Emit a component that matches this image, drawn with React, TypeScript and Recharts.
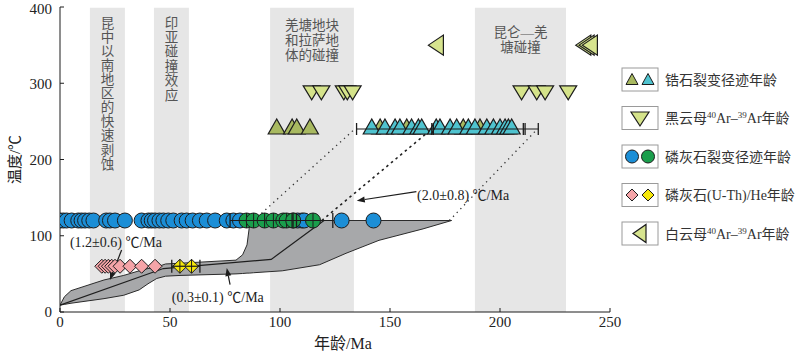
import React from 'react';
import {
  ComposedChart,
  XAxis,
  YAxis,
  Area,
  Scatter,
  ReferenceArea,
  ReferenceLine,
  ReferenceDot,
  Legend,
  Label
} from 'recharts';

const SERIF = "'Liberation Serif', 'Noto Sans CJK SC', serif";
const CJK = "'Noto Sans CJK SC', 'Liberation Serif', sans-serif";

const xTicks = [0, 50, 100, 150, 200, 250];
const yTicks = [0, 100, 200, 300, 400];

// tectonic events, age span in Ma
const eventFrom = [13.6, 42.7, 95.5, 188.6];
const eventTo = [29.5, 58.6, 133.6, 230];
const eventText = [
  ['昆中以南地区的快速剥蚀'],
  ['印亚碰撞效应'],
  ['羌塘地块', '和拉萨地', '体的碰撞'],
  ['昆仑—羌', '塘碰撞']
];

// modelled thermal history envelope (age Ma, temp °C)
const envAge = [0, 2, 5, 20, 29, 36, 40, 44, 48, 55, 80, 83, 85, 86, 88, 101, 118, 130, 145, 165, 178];
const envLow = [9, 10, 11.5, 17.5, 22, 29, 37, 44, 47, 48, 50, 50.5, 51, 51, 51.5, 54, 62, 77, 94, 109, 120];
const envHigh = [9, 20, 28, 42, 48, 54, 57, 59, 63, 64, 68, 75, 88, 110, 120, 120, 120, 120, 120, 120, 120];

// best-fit path
const pathAge = [0, 47, 96, 120];
const pathTemp = [9, 57, 69, 120];

// cooling-rate guides
const rateA = { age: [88, 134], temp: [120, 240] };
const rateB = { age: [119, 169], temp: [120, 240] };
const rateC = { age: [177, 217], temp: [120, 240] };

// apatite fission track (120 °C)
const aftTemp = 120;
const aftBlue = [0, 1.5, 3, 5.3, 8.3, 9.8, 11.4, 13.3, 15.2, 21, 22.7, 25, 29.5, 37.1, 40.2, 41.7, 43.2, 45.2, 47, 49.2,
  51.5, 55.3, 57.6, 60.3, 63.6, 66.7, 70.5, 75.8, 78.8, 81.8, 106, 108, 110, 111, 128, 142.5];
const aftGreen = [84.8, 88, 93, 97, 101.5, 103, 106, 115];
const aftErr = [77.3, 124];
const aftErrTicks = [77.3, 105.5, 107.5, 124];

// apatite (U-Th)/He (60 °C)
const aheTemp = 60;
const ahePink = [19, 20.5, 22, 23.5, 25, 27.3, 31.8, 37.1, 43.2];
const aheYellow = [54.5, 59.8];
const aheErr = [50.8, 63.6];

// zircon fission track (240 °C)
const zftTemp = 240;
const zftOlive = [98.5, 105.5, 107.6, 113.6, 145.5, 157.6, 183.3, 190.9];
const zftCyan = [141.7, 147.7, 152.3, 154.5, 159.8, 162.9, 164.4, 171, 172.7, 177.3, 180.3, 185.6, 188.6, 194, 197,
  200, 202.3, 203.8, 205.3];
const zftErr = [134.8, 217.4];
const zftErrTicks = [134.8, 169, 169.7, 210.6, 211.4, 217.4];

// biotite 40Ar-39Ar (290 °C), muscovite 40Ar-39Ar (350 °C)
const btTemp = 290;
const btAges = [114.4, 118.8, 129, 130.6, 133, 209.8, 216.7, 220.5, 231];
const msTemp = 350;
const msAges = [172, 239, 240.5, 242];

const legendLabels = [
  '锆石裂变径迹年龄',
  '黑云母^40^Ar–^39^Ar年龄',
  '磷灰石裂变径迹年龄',
  '磷灰石(U-Th)/He年龄',
  '白云母^40^Ar–^39^Ar年龄'
];

const C = {
  olive: '#a8b960',
  cyan: '#4fc3cf',
  biotite: '#d5e38a',
  muscovite: '#d7e48e',
  blue: '#1b8ed6',
  green: '#1a9e4c',
  pink: '#f5a4a8',
  yellow: '#f6e80a',
  band: '#e6e6e6',
  env: '#a7a8aa',
  ink: '#1c1c1c'
};

const toPoints = (ages: number[], temp: number) => ages.map((x) => ({ x, y: temp }));
const toPath = (ages: number[], temps: number[]) => ages.map((x, i) => ({ x, y: temps[i] }));
const envRows = envAge.map((x, i) => ({ x, range: [envLow[i], envHigh[i]] }));

const none = () => <g />;
const dot = (fill: string, cross = false) => (p: any) => (
  <g>
    <circle cx={p.cx} cy={p.cy} r={7.5} fill={fill} stroke={C.ink} strokeWidth={1} />
    {cross && <line x1={p.cx} x2={p.cx} y1={p.cy - 7.5} y2={p.cy + 7.5} stroke={C.ink} strokeWidth={1} />}
  </g>
);
const diamond = (fill: string, cross = false) => (p: any) => (
  <g>
    <polygon
      points={`${p.cx},${p.cy - 7} ${p.cx + 7},${p.cy} ${p.cx},${p.cy + 7} ${p.cx - 7},${p.cy}`}
      fill={fill}
      stroke={C.ink}
      strokeWidth={1}
    />
    {cross && <line x1={p.cx} x2={p.cx} y1={p.cy - 7} y2={p.cy + 7} stroke={C.ink} strokeWidth={1} />}
  </g>
);
const triUp = (fill: string) => (p: any) => (
  <polygon
    points={`${p.cx},${p.cy - 10} ${p.cx - 8.5},${p.cy + 5} ${p.cx + 8.5},${p.cy + 5}`}
    fill={fill}
    stroke={C.ink}
    strokeWidth={1.2}
  />
);
const triDown = (fill: string) => (p: any) => (
  <polygon
    points={`${p.cx - 8.5},${p.cy - 5} ${p.cx + 8.5},${p.cy - 5} ${p.cx},${p.cy + 9}`}
    fill={fill}
    stroke={C.ink}
    strokeWidth={1.2}
  />
);
const triLeft = (fill: string) => (p: any) => (
  <polygon
    points={`${p.cx - 10},${p.cy} ${p.cx + 5},${p.cy - 10} ${p.cx + 5},${p.cy + 10}`}
    fill={fill}
    stroke={C.ink}
    strokeWidth={1.2}
  />
);
const vTick = (h: number) => (p: any) => (
  <line x1={p.cx} x2={p.cx} y1={p.cy - h} y2={p.cy + h} stroke={C.ink} strokeWidth={1.3} />
);

const ArrowLine = (p: any) => {
  const { x1, y1, x2, y2 } = p;
  const a = Math.atan2(y2 - y1, x2 - x1);
  const L = 8;
  const W = 3;
  const bx = x2 - L * Math.cos(a);
  const by = y2 - L * Math.sin(a);
  const pts = `${x2},${y2} ${bx - W * Math.sin(a)},${by + W * Math.cos(a)} ${bx + W * Math.sin(a)},${by - W * Math.cos(a)}`;
  return (
    <g>
      <line x1={x1} y1={y1} x2={bx} y2={by} stroke={C.ink} strokeWidth={1.2} />
      <polygon points={pts} fill={C.ink} />
    </g>
  );
};

const note = (txt: string) => (p: any) => (
  <text x={p.cx} y={p.cy + 5} fontFamily={SERIF} fontSize={14} fill="#222">
    {txt}
  </text>
);

// vertical labels use one text column, horizontal ones one line per row
const BandLabel = ({ viewBox, lines, first, step, vertical }: any) => {
  if (!viewBox) return null;
  const cx = viewBox.x + viewBox.width / 2;
  if (vertical) {
    return (
      <text
        x={cx}
        y={viewBox.y + first}
        fontFamily={CJK}
        fontSize={13.5}
        fill="#555"
        style={{ writingMode: 'vertical-rl', letterSpacing: step - 13.5 }}
      >
        {lines[0]}
      </text>
    );
  }
  return (
    <g>
      {lines.map((s: string, i: number) => (
        <text key={i} x={cx} y={viewBox.y + first + i * step + 5} fontFamily={SERIF} fontSize={13.5} fill="#555" textAnchor="middle">
          {s}
        </text>
      ))}
    </g>
  );
};
const bandLayout = [
  { first: 8, step: 14.1, vertical: true },
  { first: 8, step: 14.4, vertical: true },
  { first: 17, step: 15, vertical: false },
  { first: 24, step: 15, vertical: false }
];

const YTitle = ({ viewBox }: any) => (
  <text
    transform={`translate(${viewBox.x + 15}, ${viewBox.y + viewBox.height / 2}) rotate(-90)`}
    textAnchor="middle"
    dominantBaseline="central"
    fontFamily={SERIF}
    fontSize={15}
    fill="#222"
  >
    温度/℃
  </text>
);
const XTitle = ({ viewBox }: any) => (
  <text x={viewBox.x + 283} y={viewBox.y + 37} textAnchor="middle" fontFamily={SERIF} fontSize={16} fill="#222">
    年龄/Ma
  </text>
);

const LegendLabel = ({ x, y, label }: any) => {
  const parts = label.split('^');
  return (
    <text x={x} y={y} fontFamily={SERIF} fontSize={14} fill="#333">
      {parts.map((s: string, i: number) =>
        i % 2 ? (
          <tspan key={i} fontSize={9} dy={-5}>
            {s}
          </tspan>
        ) : (
          <tspan key={i} dy={i ? 5 : 0}>
            {s}
          </tspan>
        )
      )}
    </text>
  );
};

const LegendPanel = () => {
  const rowTop = (i: number) => 8 + i * 38.5;
  const symbols = [
    (y: number) => (
      <g>
        <polygon points={`${17},${y - 6} ${11},${y + 5} ${23},${y + 5}`} fill={C.olive} stroke={C.ink} />
        <polygon points={`${33},${y - 6} ${27},${y + 5} ${39},${y + 5}`} fill={C.cyan} stroke={C.ink} />
      </g>
    ),
    (y: number) => (
      <polygon points={`${16},${y - 6} ${34},${y - 6} ${25},${y + 8}`} fill={C.biotite} stroke={C.ink} strokeWidth={1.2} />
    ),
    (y: number) => (
      <g>
        <circle cx={17} cy={y} r={6.5} fill={C.blue} stroke={C.ink} />
        <circle cx={33} cy={y} r={6.5} fill={C.green} stroke={C.ink} />
      </g>
    ),
    (y: number) => (
      <g>
        <polygon points={`17,${y - 6} 23,${y} 17,${y + 6} 11,${y}`} fill={C.pink} stroke={C.ink} />
        <polygon points={`33,${y - 6} 39,${y} 33,${y + 6} 27,${y}`} fill={C.yellow} stroke={C.ink} />
      </g>
    ),
    (y: number) => (
      <polygon points={`${18},${y} ${31},${y - 9} ${31},${y + 9}`} fill={C.muscovite} stroke={C.ink} strokeWidth={1.2} />
    )
  ];
  return (
    <svg width={185} height={200}>
      {legendLabels.map((lab, i) => {
        const top = rowTop(i);
        const cy = top + 11.5;
        return (
          <g key={i}>
            <rect x={7} y={top} width={36} height={23} fill="#fff" stroke="#9a9a9a" strokeWidth={1} />
            {symbols[i](cy)}
            <LegendLabel x={50} y={cy + 5} label={lab} />
          </g>
        );
      })}
    </svg>
  );
};

export default function App() {
  return (
    <div style={{ position: 'absolute', left: 0, top: 0, background: '#fff' }}>
      <ComposedChart
        width={800}
        height={353}
        data={envRows}
        margin={{ top: 7, right: 190, bottom: 0, left: 0 }}
        style={{ fontFamily: SERIF }}
      >
        <XAxis
          type="number"
          dataKey="x"
          domain={[0, 250]}
          ticks={xTicks}
          height={41}
          tickSize={-4}
          tickMargin={8}
          stroke={C.ink}
          tick={{ fontSize: 15, fill: '#222', fontFamily: SERIF }}
          allowDataOverflow
        >
          <Label content={XTitle} />
        </XAxis>
        <YAxis
          type="number"
          dataKey="y"
          domain={[0, 400]}
          ticks={yTicks}
          width={60}
          tickSize={-4}
          tickMargin={12}
          stroke={C.ink}
          tick={{ fontSize: 15, fill: '#222', fontFamily: SERIF }}
          allowDataOverflow
        >
          <Label content={YTitle} />
        </YAxis>

        {eventFrom.map((x1, i) => (
          <ReferenceArea
            key={i}
            x1={x1}
            x2={eventTo[i]}
            y1={0}
            y2={399}
            fill={C.band}
            fillOpacity={1}
            stroke="none"
            label={<BandLabel lines={eventText[i]} {...bandLayout[i]} />}
          />
        ))}

        <Area
          type="linear"
          dataKey="range"
          fill={C.env}
          fillOpacity={1}
          stroke="#2b2b2b"
          strokeWidth={1}
          dot={false}
          activeDot={false}
          isAnimationActive={false}
        />
        <Scatter data={toPath(pathAge, pathTemp)} line={{ stroke: '#1f1f1f', strokeWidth: 1.2 }} lineType="joint" shape={none} isAnimationActive={false} />

        <Scatter data={toPath(rateA.age, rateA.temp)} line={{ stroke: '#333', strokeWidth: 1.3, strokeDasharray: '1.3 4' }} lineType="joint" shape={none} isAnimationActive={false} />
        <Scatter data={toPath(rateB.age, rateB.temp)} line={{ stroke: '#222', strokeWidth: 1.6, strokeDasharray: '2.5 3.5' }} lineType="joint" shape={none} isAnimationActive={false} />
        <Scatter data={toPath(rateC.age, rateC.temp)} line={{ stroke: '#333', strokeWidth: 1.3, strokeDasharray: '1.3 4' }} lineType="joint" shape={none} isAnimationActive={false} />

        <Scatter data={toPoints(aftBlue, aftTemp)} shape={dot(C.blue)} isAnimationActive={false} />
        <Scatter data={toPoints(aftGreen, aftTemp)} shape={dot(C.green, true)} isAnimationActive={false} />
        <Scatter data={toPoints(aftErr, aftTemp)} line={{ stroke: C.ink, strokeWidth: 1.2 }} lineType="joint" shape={none} isAnimationActive={false} />
        <Scatter data={toPoints(aftErrTicks, aftTemp)} shape={vTick(7.5)} isAnimationActive={false} />

        <Scatter data={toPoints(ahePink, aheTemp)} shape={diamond(C.pink)} isAnimationActive={false} />
        <Scatter data={toPoints(aheYellow, aheTemp)} shape={diamond(C.yellow, true)} isAnimationActive={false} />
        <Scatter data={toPoints(aheErr, aheTemp)} line={{ stroke: C.ink, strokeWidth: 1.2 }} lineType="joint" shape={vTick(6.5)} isAnimationActive={false} />

        <Scatter data={toPoints(zftOlive, zftTemp)} shape={triUp(C.olive)} isAnimationActive={false} />
        <Scatter data={toPoints(zftCyan, zftTemp)} shape={triUp(C.cyan)} isAnimationActive={false} />
        <Scatter data={toPoints(zftErr, zftTemp)} line={{ stroke: C.ink, strokeWidth: 1.2 }} lineType="joint" shape={none} isAnimationActive={false} />
        <Scatter data={toPoints(zftErrTicks, zftTemp)} shape={vTick(6)} isAnimationActive={false} />

        <Scatter data={toPoints(btAges, btTemp)} shape={triDown(C.biotite)} isAnimationActive={false} />
        <Scatter data={toPoints(msAges, msTemp)} shape={triLeft(C.muscovite)} isAnimationActive={false} />

        <ReferenceLine segment={[{ x: 162, y: 157.8 }, { x: 134.9, y: 146 }]} shape={ArrowLine} />
        <ReferenceLine segment={[{ x: 28, y: 81.3 }, { x: 22.7, y: 42 }]} shape={ArrowLine} />
        <ReferenceLine segment={[{ x: 77.3, y: 36 }, { x: 75.8, y: 57.7 }]} shape={ArrowLine} />

        <ReferenceDot x={162.3} y={153.4} r={0} shape={note('(2.0±0.8) ℃/Ma')} />
        <ReferenceDot x={4.5} y={92.2} r={0} shape={note('(1.2±0.6) ℃/Ma')} />
        <ReferenceDot x={50.8} y={20} r={0} shape={note('(0.3±0.1) ℃/Ma')} />

        <Legend
          layout="vertical"
          align="center"
          verticalAlign="middle"
          content={() => <LegendPanel />}
          wrapperStyle={{ left: 615, top: 60, width: 185, height: 200 }}
        />
      </ComposedChart>
    </div>
  );
}
